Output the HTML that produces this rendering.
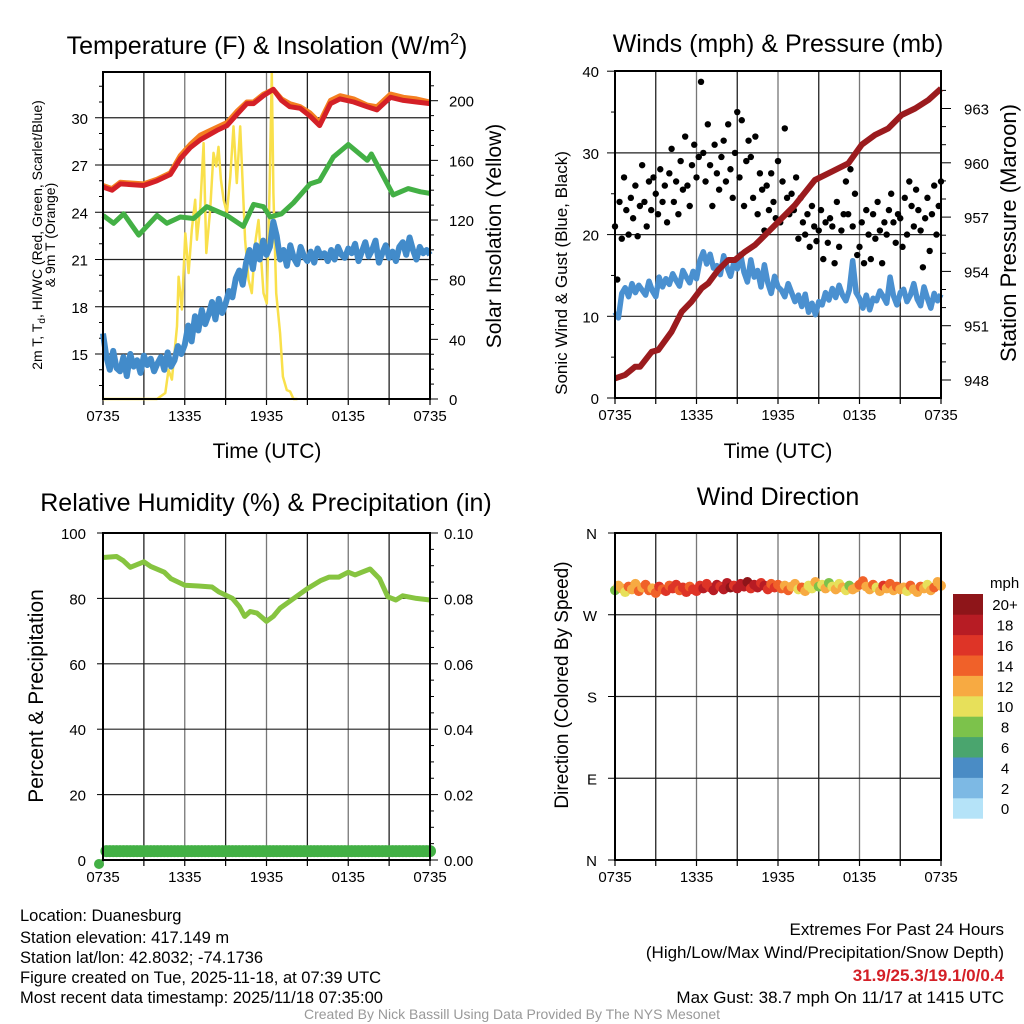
<!DOCTYPE html>
<html><head><meta charset="utf-8"><style>
html,body{margin:0;padding:0;background:#fff;}
svg{display:block;font-family:"Liberation Sans",Arial,sans-serif;}
</style></head><body>
<svg id="chart" width="1024" height="1024" viewBox="0 0 1024 1024" xmlns="http://www.w3.org/2000/svg">
<g id="g1"></g>
<g id="g2"></g>
<g id="g3"></g>
<g id="g4"></g>
<g id="foot">
<text x="20" y="921" font-size="16.5">Location: Duanesburg</text>
<text x="20" y="943" font-size="16.5">Station elevation: 417.149 m</text>
<text x="20" y="963" font-size="16.5">Station lat/lon: 42.8032; -74.1736</text>
<text x="20" y="983" font-size="16.5">Figure created on Tue, 2025-11-18, at 07:39 UTC</text>
<text x="20" y="1003" font-size="16.5">Most recent data timestamp: 2025/11/18 07:35:00</text>
<text x="1004" y="935" font-size="17" text-anchor="end">Extremes For Past 24 Hours</text>
<text x="1004" y="958" font-size="17" text-anchor="end">(High/Low/Max Wind/Precipitation/Snow Depth)</text>
<text x="1004" y="981" font-size="17" font-weight="bold" fill="#d42027" text-anchor="end">31.9/25.3/19.1/0/0.4</text>
<text x="1004" y="1003" font-size="17" text-anchor="end">Max Gust: 38.7 mph On 11/17 at 1415 UTC</text>
<text x="512" y="1019" font-size="14" fill="#999" text-anchor="middle">Created By Nick Bassill Using Data Provided By The NYS Mesonet</text>
</g>
</svg>
<script>
const xLabels=["0735","1335","1935","0135","0735"];
const redT_h=[0,0.66,1.27,2.98,3.96,4.94,5.67,6.4,7.14,8.36,9.1,9.82,10.56,11.05,11.78,12.5,13.1,13.7,14.47,15.2,15.9,16.7,17.4,18.4,19.4,20.1,21.1,22.05,23.0,24];
const redT=[25.6,25.4,25.8,25.7,26.0,26.4,27.4,28.1,28.6,29.2,29.5,30.2,30.9,30.9,31.4,31.8,31.1,30.7,30.6,30.1,29.5,30.9,31.2,31.0,30.7,30.5,31.3,31.1,31.0,30.9];
const orangeT=[25.7,25.5,25.9,25.8,26.1,26.5,27.6,28.3,28.9,29.4,29.7,30.4,31.0,31.0,31.5,31.8,31.2,30.9,30.7,30.3,29.7,31.1,31.4,31.2,30.8,30.7,31.5,31.3,31.2,31.0];
const dewT_h=[0,0.78,1.52,2.62,3.96,4.69,5.67,6.65,7.62,9.09,10.3,11.05,11.78,12.27,13.1,13.98,15.2,15.9,16.9,18.0,19.4,19.7,21.3,22.4,23.3,24];
const dewT=[23.8,23.3,23.9,22.55,23.8,23.3,23.7,23.6,24.35,23.8,23.1,24.5,24.35,23.7,23.9,24.6,25.8,26.0,27.5,28.3,27.3,27.7,25.1,25.5,25.3,25.2];
const wcT=[16.3,14.8,14.0,15.2,14.1,13.9,14.8,13.6,15.0,14.2,14.6,13.8,14.9,14.3,14.7,13.9,14.4,14.8,14.0,15.1,14.2,14.6,15.5,15.0,15.6,
16.8,15.8,17.4,16.5,17.8,16.9,17.5,18.3,17.2,18.5,17.6,18.2,
19.0,18.6,19.8,20.3,19.4,20.8,21.6,20.4,21.9,21.0,22.2,21.3,
21.8,23.4,22.5,21.0,21.6,20.6,21.9,21.1,20.7,21.8,21.2,20.9,
21.5,20.8,21.7,21.2,21.4,20.9,21.6,21.0,21.8,21.3,21.1,21.7,
21.4,22.0,20.9,21.5,22.1,21.2,21.6,22.2,20.8,21.4,21.9,21.1,
21.5,20.9,21.8,22.1,21.3,22.4,21.6,21.0,21.8,21.4,21.6,21.3];
const sol_h=[0,3.96,4.57,4.81,5.06,5.43,5.55,5.79,6.04,6.28,6.52,6.77,6.89,7.14,7.38,7.58,7.87,8.11,8.31,8.48,8.65,8.85,9.09,9.34,9.58,9.82,10.07,10.43,10.68,10.92,11.17,11.41,11.78,12.02,12.22,12.39,12.51,12.71,13.0,13.2,13.49,13.73,13.98,14.27,24];
const sol=[0,0,4,19.6,13,48.7,82,60,111,84.5,113.5,133.6,106.8,129,171.6,97.9,127,165,156,169,147,133.6,124.7,149,182.8,144.8,182.8,106.8,80,71,104.6,120,71,64,138,218.6,138,71,44,15,6,5,0,0];
const pres_h=[0,0.74,1.47,1.84,2.7,3.19,4.17,4.91,5.64,6.38,6.87,7.6,8.34,8.83,9.57,10.31,11.29,12.27,13.25,14.72,15.95,17.18,18.16,19.14,20.12,21.1,22.09,23.07,24];
const pres=[948.09,948.28,948.73,948.73,949.56,949.66,950.67,951.77,952.33,953.07,953.34,954.08,954.63,954.63,955.09,955.46,956.19,956.93,957.67,959.05,959.51,959.97,961.0,961.54,961.9,962.64,963.0,963.47,964.1];
const sonic=[10.5,9.8,12.8,13.5,12.4,14.0,12.9,13.8,13.2,12.6,14.3,13.1,12.4,14.8,13.6,14.6,13.9,15.2,14.4,13.7,15.6,14.8,14.1,15.5,14.6,
16.8,17.9,16.4,17.6,15.9,16.2,15.1,17.4,16.0,14.9,16.6,15.8,
17.6,15.4,14.2,16.9,14.8,15.6,13.6,16.3,14.1,12.8,14.9,13.6,
13.2,12.4,14.0,12.9,11.8,12.6,11.2,12.7,10.5,11.6,10.2,11.8,
11.4,12.9,12.0,13.4,12.3,13.8,12.6,11.9,13.2,16.8,12.9,12.2,
11.0,12.6,10.8,12.2,11.9,13.1,12.4,11.6,14.8,12.5,11.4,12.9,
13.3,11.8,12.6,14.0,12.1,11.3,13.6,12.2,11.0,12.8,11.9,12.7];
const gust=[21,14.5,24,19.5,27,23, 20,24.5,22,26,19.8,23.5, 28.5,24,21,26.5,23,27, 25,22.5,28,24,26,21.5,
27.5,30.5,24,26.5,22.5,29, 25.5,32,26,23.5,28.5,31, 27,29.5,38.7,30,26.5,33.5, 28.5,23.5,31,27.5,25.5,29.5,
31.5,26.5,33.5,28,24.5,30, 35,27,34,23.5,29,31.5, 29.5,24.5,32,22.5,27.5,25.5, 20.5,26,23,27.5,24,22,
29,21.5,26.5,33,24.5,22.5, 25,23,27,19.5,24.5,21.5, 20,22.5,18.5,23.5,21,19.2, 20.5,23,17,21.5,19,22,
21,16.5,24,18.5,20.5,22.5, 26.5,22.5,28,21,25,17.5, 18.5,21.5,16.5,23,20,17, 22.5,19.5,24,20.5,16.5,21.5,
20,23,25,21.5,19,22.5, 22,18.5,24.5,20,26.5,23.5, 21,25.5,23,20.5,16,22, 24.5,18,22.5,26,20,23.5,26.5];
const rh_h=[0,1,1.5,2,3,3.5,4.5,5,6,7,8,8.5,9,9.5,10,10.4,10.8,11.3,12,12.5,13,14,15,16,16.6,17.3,18,18.5,19,19.6,20.3,20.9,21.5,22,23,24];
const rh=[92.5,92.8,91.5,89.5,91.2,89.8,88,86,84,83.8,83.5,82,81,80,77.5,74.5,76,75.5,73,74.5,77,80,83,85.5,86.5,86.5,88,87.2,88,89,86,80.5,79.5,80.8,80,79.5];
const precip=new Array(97).fill(0.0027); precip[0]=0;
const wdir=[297,302,299,295,301,298,304,296,300,303,297,299,294,301,298,296,302,299,303,297,300,295,301,298,296,
302,299,304,300,297,303,301,298,305,300,302,299,
304,301,306,299,303,300,305,302,298,304,300,303,
299,302,297,301,304,298,300,296,302,299,306,301,
303,299,305,301,298,304,300,297,302,298,300,303,
307,301,298,303,300,296,302,299,304,297,301,298,
300,296,302,298,295,301,299,303,297,300,306,302];
const wspd=[9,12,13,11,14,13,12,14,13,15,14,13,15,16,14,16,15,17,16,15,17,16,14,17,16,
17,18,16,17,19,18,17,19,18,20,17,18,
19,18,20,17,18,19,16,18,17,15,16,14,
14,13,15,12,13,11,14,12,10,11,12,9,
10,12,9,11,13,10,12,11,8,13,12,14,
15,13,12,14,11,13,16,12,14,13,15,12,
13,11,14,12,13,15,12,11,13,14,12,13];
const binLabels=["0","2","4","6","8","10","12","14","16","18","20+"];
const binColors=["#b5e3f8","#7db9e4","#4a8cc5","#4aa56e","#7cc24b","#e7e05a","#f7aa42","#f06129","#de3427","#b71c24","#8e1519"];
const t1Ticks=[15,18,21,24,27,30], s1Ticks=[0,40,80,120,160,200];
const w2Ticks=[0,10,20,30,40], p2Ticks=[948,951,954,957,960,963];
const r3Ticks=[0,20,40,60,80,100], pr3Ticks=["0.00","0.02","0.04","0.06","0.08","0.10"];
const d4Ticks=["N","E","S","W","N"];

const NS="http://www.w3.org/2000/svg";
function el(parent,tag,attrs,txt){const e=document.createElementNS(NS,tag);for(const k in attrs)e.setAttribute(k,attrs[k]);if(txt!==undefined)e.textContent=txt;parent.appendChild(e);return e;}
function mkX(x0,x1){return h=>x0+(x1-x0)*h/24;}
function path(pts){return pts.map((p,i)=>(i?"L":"M")+p[0].toFixed(1)+","+p[1].toFixed(1)).join("");}
function frame(g,x0,x1,y0,y1,hLines){
  for(let k=1;k<8;k++){const x=x0+(x1-x0)*k/8;const l=el(g,"line",{x1:x,x2:x,y1:y0,y2:y1,stroke:k%2?"#222":"#777","stroke-width":1.3});
  
  }
  hLines.forEach(y=>{const l=el(g,"line",{x1:x0,x2:x1,y1:y,y2:y,stroke:"#222","stroke-width":1.2});
  
  });
  for(let k=0;k<=8;k++){const x=x0+(x1-x0)*k/8;el(g,"line",{x1:x,x2:x,y1:y1,y2:y1+6,stroke:"#000","stroke-width":1.2});}
  xLabels.forEach((s,i)=>{const t=el(g,"text",{x:x0+(x1-x0)*i/4,y:y1+22,"font-size":15,"text-anchor":"middle"},s);
  
  });
}
function box(g,x0,x1,y0,y1){const r=el(g,"rect",{x:x0,y:y0,width:x1-x0,height:y1-y0,fill:"none",stroke:"#000","stroke-width":2});

}
function lab(g,x,y,s,anchor,size,name,rot){const a={x:x,y:y,"font-size":size,"text-anchor":anchor};if(rot)a.transform="rotate(-90 "+x+" "+y+")";const t=el(g,"text",a,s);

return t;}

// ---------- Panel 1 ----------
(function(){
const g=document.getElementById("g1");const x0=103,x1=430,y0=72,y1=399;const X=mkX(x0,x1);
const YT=v=>354-(v-15)*15.75, YS=v=>399-v*1.4915;
frame(g,x0,x1,y0,y1,t1Ticks.map(YT));
for(let v=13;v<=33;v++){const y=YT(v);if(y<y0||y>y1)continue;el(g,"line",{x1:x0-((v%3)?4:8),x2:x0,y1:y,y2:y,stroke:"#000"});}
t1Ticks.forEach(v=>lab(g,x0-15,YT(v)+6,String(v),"end",15,"left-tick-label"));
for(let v=0;v<=220;v+=10){if(YS(v)<y0)break;el(g,"line",{x1:x1,x2:x1+(v%40?4:8),y1:YS(v),y2:YS(v),stroke:"#000"});}
s1Ticks.forEach(v=>lab(g,x1+19,YS(v)+6,String(v),"start",15,"right-tick-label"));
const s=el(g,"path",{d:path(sol_h.map((h,i)=>[X(h),YS(sol[i])])),fill:"none",stroke:"#f9e04b","stroke-width":2.5,"stroke-linejoin":"round"});


const o=el(g,"path",{d:path(redT_h.map((h,i)=>[X(h),YT(orangeT[i])])),fill:"none",stroke:"#f47f20","stroke-width":5,"stroke-linejoin":"round"});


const r=el(g,"path",{d:path(redT_h.map((h,i)=>[X(h),YT(redT[i])])),fill:"none",stroke:"#d42027","stroke-width":5,"stroke-linejoin":"round"});


const d=el(g,"path",{d:path(dewT_h.map((h,i)=>[X(h),YT(dewT[i])])),fill:"none",stroke:"#43b045","stroke-width":5,"stroke-linejoin":"round"});


const w=el(g,"path",{d:path(wcT.map((v,i)=>[X(i*0.25),YT(v)])),fill:"none",stroke:"#428bca","stroke-width":6,"stroke-linejoin":"round"});


box(g,x0,x1,y0,y1);
const t=el(g,"text",{x:267,y:54,"font-size":25,"text-anchor":"middle"});


t.innerHTML='Temperature (F) &amp; Insolation (W/m<tspan dy="-10" font-size="16">2</tspan><tspan dy="10">)</tspan>';
lab(g,267,458,"Time (UTC)","middle",21,"x-axis-title");
const yl=el(g,"text",{x:42,y:235,"font-size":14,"text-anchor":"middle",transform:"rotate(-90 42 235)"});


yl.innerHTML='2m T, T<tspan dy="3" font-size="10">d</tspan><tspan dy="-3">, HI/WC (Red, Green, Scarlet/Blue)</tspan>';
lab(g,55,235,"& 9m T (Orange)","middle",14,"left-axis-title-2",true);
lab(g,501,236,"Solar Insolation (Yellow)","middle",21,"right-axis-title",true);
})();

// ---------- Panel 2 ----------
(function(){
const g=document.getElementById("g2");const x0=615,x1=941,y0=71,y1=398;const X=mkX(x0,x1);
const YW=v=>398-v*8.17, YP=v=>380-(v-948)*18.1;
frame(g,x0,x1,y0,y1,w2Ticks.map(YW));
for(let v=0;v<=40;v+=5){el(g,"line",{x1:x0-(v%10?4:8),x2:x0,y1:YW(v),y2:YW(v),stroke:"#000"});}
w2Ticks.forEach(v=>lab(g,x0-16,YW(v)+6,String(v),"end",15,"left-tick-label"));
for(let v=947;v<=964;v++){const y=YP(v);if(y<y0||y>y1)continue;el(g,"line",{x1:x1,x2:x1+(v%3?5:10),y1:y,y2:y,stroke:"#000"});}
p2Ticks.forEach(v=>lab(g,x1+23,YP(v)+6,String(v),"start",15,"right-tick-label"));
const w=el(g,"path",{d:path(sonic.map((v,i)=>[X(i*0.25),YW(v)])),fill:"none",stroke:"#4a90d0","stroke-width":5.5,"stroke-linejoin":"round"});


gust.forEach((v,i)=>{const c=el(g,"circle",{cx:X(i*24/(gust.length-1)),cy:YW(v),r:3.2,fill:"#000"});

});
const p=el(g,"path",{d:path(pres_h.map((h,i)=>[X(h),YP(pres[i])])),fill:"none",stroke:"#9b1b1e","stroke-width":6,"stroke-linejoin":"round"});


box(g,x0,x1,y0,y1);
lab(g,778,52,"Winds (mph) & Pressure (mb)","middle",25,"winds-title");
lab(g,778,458,"Time (UTC)","middle",21,"x-axis-title");
lab(g,567,273,"Sonic Wind & Gust (Blue, Black)","middle",17,"left-axis-title",true);
lab(g,1016,233,"Station Pressure (Maroon)","middle",22,"right-axis-title",true);
})();

// ---------- Panel 3 ----------
(function(){
const g=document.getElementById("g3");const x0=103,x1=430,y0=533,y1=860;const X=mkX(x0,x1);
const YR=v=>860-v*3.27, YQ=v=>860-v*3270;
frame(g,x0,x1,y0,y1,r3Ticks.map(YR));
r3Ticks.forEach(v=>{el(g,"line",{x1:x0-6,x2:x0,y1:YR(v),y2:YR(v),stroke:"#000"});lab(g,x0-17,YR(v)+6,String(v),"end",15,"left-tick-label");});
for(let k=0;k<=20;k++){const y=860-k*327/20;el(g,"line",{x1:x1,x2:x1+(k%4?4:8),y1:y,y2:y,stroke:"#000"});}
pr3Ticks.forEach((s,i)=>lab(g,x1+14,YR(i*20)+6,s,"start",15,"right-tick-label"));
const r=el(g,"path",{d:path(rh_h.map((h,i)=>[X(h),YR(rh[i])])),fill:"none",stroke:"#86c440","stroke-width":5,"stroke-linejoin":"round"});


precip.forEach((v,i)=>{const h=i*0.25;const c=el(g,"circle",{cx:i===0?X(0)-4:X(Math.max(h,0.25)),cy:YQ(v)+(i===0?4:0),r:i===0?5:6,fill:"#43b045"});

});
box(g,x0,x1,y0,y1);
lab(g,266,511,"Relative Humidity (%) & Precipitation (in)","middle",25,"humidity-title");
lab(g,43,696,"Percent & Precipitation","middle",21,"left-axis-title",true);
})();

// ---------- Panel 4 ----------
(function(){
const g=document.getElementById("g4");const x0=615,x1=941,y0=533,y1=860;const X=mkX(x0,x1);
const YD=v=>860-v*(327/360);
frame(g,x0,x1,y0,y1,[90,180,270].map(YD));
d4Ticks.forEach((s,i)=>{const y=YD(i*90);el(g,"line",{x1:x0-7,x2:x0,y1:y,y2:y,stroke:"#000"});lab(g,x0-18,y+6,s,"end",15,"direction-tick-label");});
function col(s){let b=Math.floor(s/2);if(b>10)b=10;if(b<0)b=0;return binColors[b];}
wdir.forEach((d,i)=>{const c=el(g,"circle",{cx:X(i*0.25),cy:YD(d),r:5,fill:col(wspd[i])});

});
box(g,x0,x1,y0,y1);
lab(g,778,505,"Wind Direction","middle",25,"wind-direction-title");
lab(g,568,685,"Direction (Colored By Speed)","middle",19,"left-axis-title",true);
const lg=el(g,"g",{});


lab(lg,990,588,"mph","start",15,"colorbar-title");
const bh=20.4;
binColors.forEach((c,i)=>{const y=594+(10-i)*bh;const r=el(lg,"rect",{x:953,y:y,width:30,height:bh+0.3,fill:c});


lab(lg,1005,y+bh/2+6,binLabels[i],"middle",15,"colorbar-label");});
})();
</script>
</body></html>
